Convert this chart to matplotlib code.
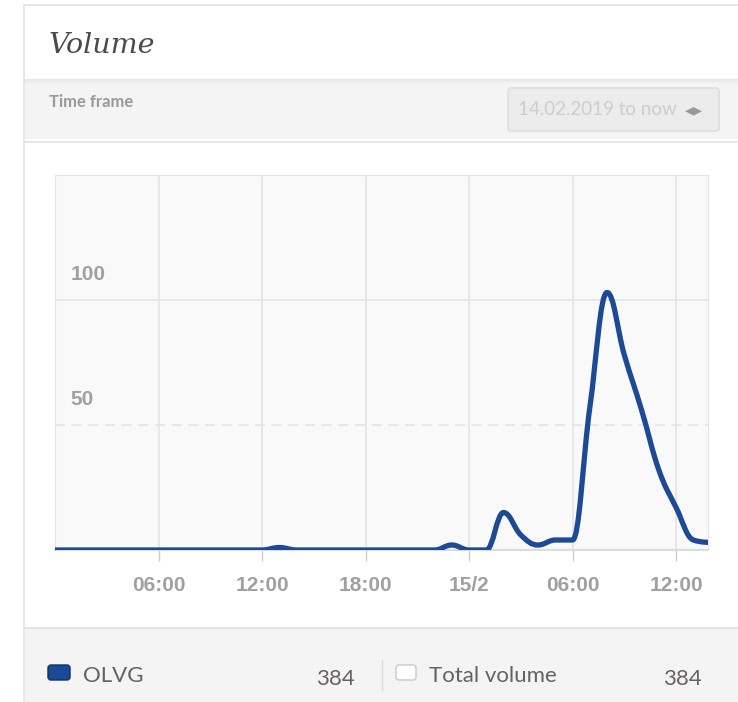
import matplotlib
matplotlib.use("Agg")
import matplotlib.pyplot as plt
import numpy as np
from matplotlib.path import Path
from matplotlib.patches import PathPatch, Rectangle, FancyBboxPatch
from matplotlib import transforms

# hourly volume, hour 0 = 14/2 00:00
hours = np.arange(0, 39)
volume = np.zeros(len(hours))
volume[13] = 1
volume[23] = 2
volume[26] = 15
volume[27] = 6
volume[28] = 2
volume[29] = 4
volume[30] = 4
volume[31] = 57
volume[32] = 103
volume[33] = 78
volume[34] = 56
volume[35] = 32
volume[36] = 17
volume[37] = 4
volume[38] = 3

tick_hours = [6, 12, 18, 24, 30, 36]
tick_labels = ["06:00", "12:00", "18:00", "15/2", "06:00", "12:00"]
y_labels = [50, 100]

series_name = "OLVG"
series_total = 384
total_name = "Total volume"
total_value = 384

LINE = "#1d4a95"
TXT = "#676262"
W, H = 738, 702


def spline_path(xs, ys, smoothing=1.5):
    # Highcharts-style spline control points
    n = len(xs)
    left = [None] * n
    right = [None] * n
    d = smoothing + 1
    for i in range(1, n - 1):
        px, py = xs[i], ys[i]
        lx, ly = xs[i - 1], ys[i - 1]
        nx, ny = xs[i + 1], ys[i + 1]
        lcx, lcy = (smoothing * px + lx) / d, (smoothing * py + ly) / d
        rcx, rcy = (smoothing * px + nx) / d, (smoothing * py + ny) / d
        corr = (rcy - lcy) * (rcx - px) / (rcx - lcx) + py - rcy
        lcy += corr
        rcy += corr
        if lcy > ly and lcy > py:
            lcy = max(ly, py); rcy = 2 * py - lcy
        elif lcy < ly and lcy < py:
            lcy = min(ly, py); rcy = 2 * py - lcy
        if rcy > ny and rcy > py:
            rcy = max(ny, py); lcy = 2 * py - rcy
        elif rcy < ny and rcy < py:
            rcy = min(ny, py); lcy = 2 * py - rcy
        left[i] = (lcx, lcy)
        right[i] = (rcx, rcy)
    verts = [(xs[0], ys[0])]
    codes = [Path.MOVETO]
    for i in range(1, n):
        c1 = right[i - 1] or (xs[i - 1], ys[i - 1])
        c2 = left[i] or (xs[i], ys[i])
        verts += [c1, c2, (xs[i], ys[i])]
        codes += [Path.CURVE4] * 3
    return Path(verts, codes)


fig = plt.figure(figsize=(W / 100, H / 100), dpi=100)

# page decoration in pixel coordinates
bg = fig.add_axes([0, 0, 1, 1])
bg.set_xlim(0, W)
bg.set_ylim(H, 0)
bg.axis("off")

bg.plot([24, 24], [5, H], color="#e3e3e3", lw=1.2)
bg.plot([24, W], [5, 5], color="#e3e3e3", lw=1.2)
bg.text(49, 53, "Volume", family="DejaVu Serif", style="italic", fontsize=20.5,
        color="#4a4a4a", va="baseline")

bg.add_patch(Rectangle((25, 79), W - 25, 60, color="#f4f4f4", lw=0))
for k, a in enumerate([0.35, 0.25, 0.15, 0.08]):
    bg.plot([25, W], [79 + k, 79 + k], color="#d6d6d6", alpha=a, lw=1)
bg.plot([25, W], [141.5, 141.5], color="#e2e2e2", lw=1.2)
bg.text(49, 107, "Time frame", family="Lato", fontweight="bold", fontsize=12,
        color="#9a9a9a", va="baseline")
bg.add_patch(FancyBboxPatch((508, 88), 211, 43, boxstyle="round,pad=0,rounding_size=3",
                            fc="#ececec", ec="#dadada", lw=1))
bg.text(518, 115, "14.02.2019 to now", family="Lato", fontsize=13.5,
        color="#cdcdcd", va="baseline")
bg.text(685, 110, "\u25c2\u25b8", family="DejaVu Sans", fontsize=13,
        color="#9a9a9a", va="center")

bg.add_patch(Rectangle((25, 628), W - 25, H - 628, color="#f4f4f4", lw=0))
bg.plot([25, W], [628, 628], color="#e0e0e0", lw=1.2)
bg.add_patch(FancyBboxPatch((48, 665), 22, 15, boxstyle="round,pad=0,rounding_size=3",
                            fc=LINE, ec="#12306a", lw=1))
bg.text(83, 682, series_name, family="Lato", fontsize=16, color=TXT, va="baseline")
bg.text(355, 685, str(series_total), family="Lato", fontsize=16, color=TXT,
        va="baseline", ha="right")
bg.plot([382, 382], [660, 690], color="#dddddd", lw=1)
bg.add_patch(FancyBboxPatch((396, 665), 20, 15, boxstyle="round,pad=0,rounding_size=3",
                            fc="white", ec="#c8c8c8", lw=1))
bg.text(429, 682, total_name, family="Lato", fontsize=16, color=TXT, va="baseline")
bg.text(702, 685, str(total_value), family="Lato", fontsize=16, color=TXT,
        va="baseline", ha="right")

# chart
ax = fig.add_axes([55 / W, (H - 550) / H, (708 - 55) / W, (550 - 175) / H])
ax.set_facecolor("#f9f9f9")
ax.set_xlim(0, 37.85)
ax.set_ylim(0, 150)
for s in ["left", "top", "right"]:
    ax.spines[s].set_color("#e4e4e4")
ax.spines["bottom"].set_color("#dcdcdc")
ax.spines["bottom"].set_linewidth(1.5)

ax.set_xticks(tick_hours)
ax.set_xticklabels(tick_labels, fontsize=15, fontweight="bold", color="#a0a0a0",
                   family="Liberation Sans")
ax.tick_params(axis="x", length=8, width=1, color="#cccccc", pad=11)
ax.set_yticks([])
ax.grid(axis="x", color="#e4e4e4", lw=1.2)
ax.axhline(100, color="#e4e4e4", lw=1.2, zorder=1)
ax.axhline(50, color="#e4e4e4", lw=1.2, ls=(0, (6, 4)), zorder=1)
ax.set_axisbelow(True)

ytrans = transforms.offset_copy(ax.get_yaxis_transform(), fig=fig, x=0, y=20,
                                units="dots")
for v in y_labels:
    ax.text(0.024, v, str(v), transform=ytrans, fontsize=15, fontweight="bold",
            color="#a0a0a0", family="Liberation Sans", va="baseline")

ax.add_patch(PathPatch(spline_path(hours, volume), fill=False, ec=LINE, lw=3.8,
                       capstyle="round", joinstyle="round", zorder=3))

fig.savefig("out.png", dpi=100)
